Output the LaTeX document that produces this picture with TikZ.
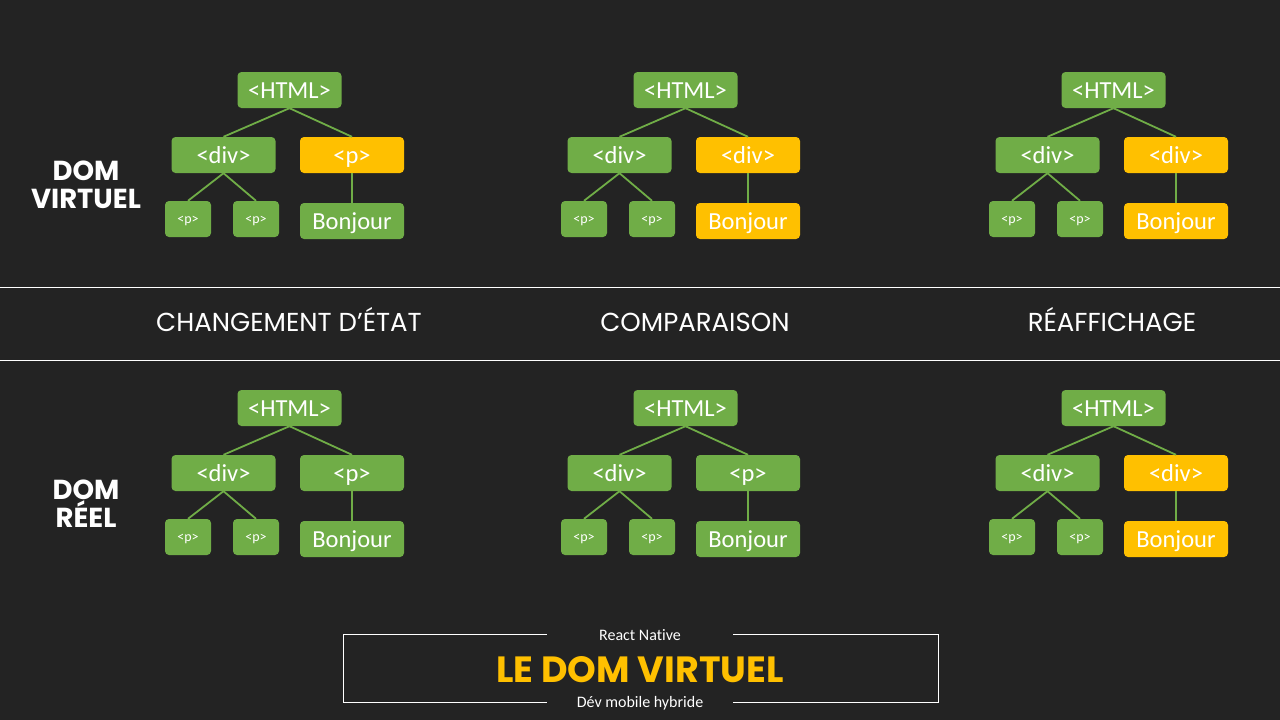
\documentclass[tikz,border=0pt]{standalone}
\usepackage{fontspec}
\setmainfont{Carlito}[Ligatures=NoCommon]
\newfontfamily\headfont{Poppins}
\usetikzlibrary{positioning}
\definecolor{bgdark}{HTML}{232323}
\definecolor{domgreen}{HTML}{70AD47}
\definecolor{domyellow}{HTML}{FFC000}

\begin{document}
\begin{tikzpicture}[
    x=1pt, y=-1pt,
    tbox/.style={rounded corners=4pt, text=white, inner sep=0pt, font=\fontsize{24.5}{28}\selectfont,
      text height=18pt, text depth=2pt},
    bignode/.style={tbox, minimum width=104pt, minimum height=36pt},
    smallnode/.style={tbox, minimum width=46pt, minimum height=36pt, font=\fontsize{14}{16}\selectfont,
      text height=10pt, text depth=1pt},
    edge/.style={domgreen, line width=1.8pt},
    sidelabel/.style={text=white, align=center, font=\headfont\bfseries\fontsize{27.5}{28}\selectfont},
    steplabel/.style={text=white, anchor=base, font=\headfont\fontsize{26}{30}\selectfont},
]
\fill[bgdark] (0,0) rectangle (1280,720);
\useasboundingbox (0,0) rectangle (1280,720);

% separators
\draw[white, line width=1pt] (0,287) -- (1280,287);
\draw[white, line width=1pt] (0,360) -- (1280,360);

% the six trees: x offset / y offset / right child / its colour / Bonjour colour / id
\foreach \dx/\dy/\lab/\ca/\cb/\id in {
    0/0/{<p>}/domyellow/domgreen/a,
    396/0/{<div>}/domyellow/domyellow/b,
    824/0/{<div>}/domyellow/domyellow/c,
    0/318/{<p>}/domgreen/domgreen/d,
    396/318/{<p>}/domgreen/domgreen/e,
    824/318/{<div>}/domyellow/domyellow/f} {
  \node[bignode, fill=domgreen] (h\id) at (\dx+289.5,\dy+90) {<HTML>};
  \node[bignode, fill=domgreen] (l\id) at (\dx+223.5,\dy+155) {<div>};
  \node[bignode, fill=\ca] (r\id) at (\dx+352,\dy+155) {\lab};
  \node[smallnode, fill=domgreen] (p\id) at (\dx+188,\dy+219) {<p>};
  \node[smallnode, fill=domgreen] (q\id) at (\dx+256,\dy+219) {<p>};
  \node[bignode, fill=\cb] (b\id) at (\dx+352,\dy+221) {Bonjour};
  \draw[edge] (h\id.south) -- (l\id.north);
  \draw[edge] (h\id.south) -- (r\id.north);
  \draw[edge] (l\id.south) -- (p\id.north);
  \draw[edge] (l\id.south) -- (q\id.north);
  \draw[edge] (r\id.south) -- (b\id.north);
}

% side labels
\node[sidelabel] (virtuel) at (86,185) {DOM\\VIRTUEL};
\node[sidelabel] (reel) at (86,504) {DOM\\RÉEL};

% steps
\node[steplabel] (change) at (289,331) {CHANGEMENT D’ÉTAT};
\node[steplabel] (compare) at (695,331) {COMPARAISON};
\node[steplabel] (redraw) at (1112,331) {RÉAFFICHAGE};

% title frame
\node[text=white, font=\fontsize{16}{18}\selectfont] (course) at (640,635) {React Native};
\node[text=domyellow, font=\headfont\bfseries\fontsize{36.5}{40}\selectfont] (title) at (640,670) {LE DOM VIRTUEL};
\node[text=white, font=\fontsize{16}{18}\selectfont] (module) at (640,703) {Dév mobile hybride};
\draw[white, line width=1pt] (547,634) -- (343,634) -- (343,702) -- (547,702);
\draw[white, line width=1pt] (733,634) -- (938,634) -- (938,702) -- (733,702);
\end{tikzpicture}
\end{document}
